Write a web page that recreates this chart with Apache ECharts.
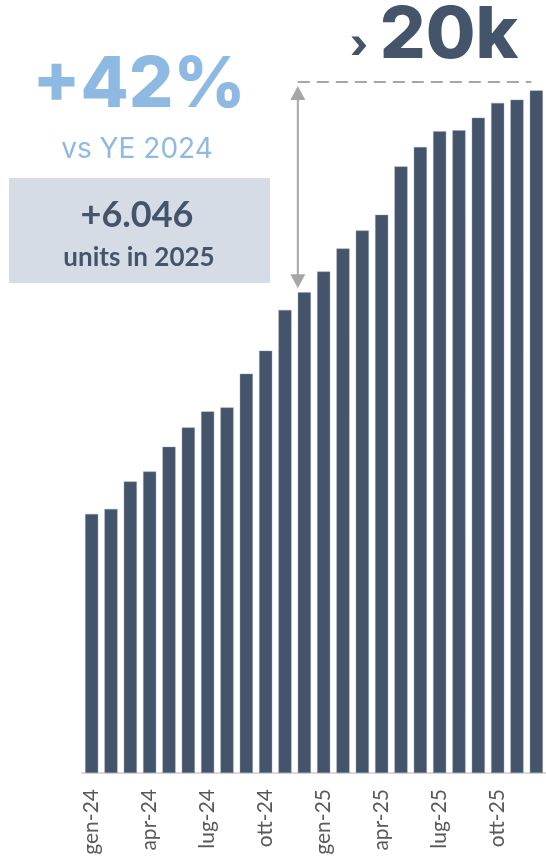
<!DOCTYPE html>
<html>
<head>
<meta charset="utf-8">
<script src="https://cdn.jsdelivr.net/npm/echarts@6/dist/echarts.min.js"></script>
<style>
  html, body { margin: 0; padding: 0; background: #fff; }
  #chart { width: 546px; height: 859px; }
</style>
</head>
<body>
<div id="chart"></div>
<script>
// Monthly cumulative units, Jan 2024 – Dec 2025
const months = [
  'gen-24','feb-24','mar-24','apr-24','mag-24','giu-24','lug-24','ago-24','set-24','ott-24','nov-24','dic-24',
  'gen-25','feb-25','mar-25','apr-25','mag-25','giu-25','lug-25','ago-25','set-25','ott-25','nov-25','dic-25'
];
const units = [
  7760, 7910, 8730, 9030, 9770, 10350, 10830, 10950, 11960, 12650, 13870, 14400,
  15020, 15710, 16250, 16720, 18170, 18750, 19220, 19250, 19630, 20070, 20170, 20446
];
const axisMax = 20700;   // level of the dashed "20k" guide
const baseMonth = 'dic-24';
const lastMonth = 'dic-25';

const headline = '+42%';
const headlineSub = 'vs YE 2024';
const deltaText = '+6.046';
const deltaSub = 'units in 2025';
const topLabel = '20k';

const DARK = '#44546A';
const LIGHT_BLUE = '#8DB9E3';
const GREY = '#A6A6A6';
const BAR_W = 13;

const chart = echarts.init(document.getElementById('chart'), null, { renderer: 'canvas' });

chart.setOption({
  animation: false,
  backgroundColor: '#ffffff',
  grid: { left: 82, top: 82, width: 467, bottom: 86, containLabel: false },
  xAxis: {
    type: 'category',
    data: months,
    boundaryGap: true,
    axisLine: { show: true, lineStyle: { color: '#D9D9D9', width: 2 } },
    axisTick: { show: false },
    axisLabel: {
      interval: 2,
      rotate: 90,
      margin: 16,
      color: '#595959',
      fontFamily: 'Lato',
      fontSize: 21
    }
  },
  yAxis: {
    type: 'value',
    min: 0,
    max: axisMax,
    show: false,
    splitLine: { show: false }
  },
  series: [{
    type: 'bar',
    data: units,
    barWidth: BAR_W,
    itemStyle: { color: DARK, borderColor: '#8A97AA', borderWidth: 0.4 }
  }]
});

// Annotations positioned through the chart's own coordinate system
const px = (cat, v) => chart.convertToPixel({ seriesIndex: 0 }, [cat, v]);
const baseVal = units[months.indexOf(baseMonth)];
const basePt = px(baseMonth, baseVal);
const topPt = px(baseMonth, axisMax);
const lastPt = px(lastMonth, axisMax);
const ax = basePt[0] - BAR_W / 2;
const yTop = topPt[1];
const yBottom = basePt[1] - 4;
const headW = 15, headH = 14;

chart.setOption({
  graphic: [
    // dashed guide at the 20k level
    { type: 'line', shape: { x1: ax, y1: yTop, x2: lastPt[0] - 5, y2: yTop },
      style: { stroke: GREY, lineWidth: 2, lineDash: [12, 7] } },
    // double-headed arrow from Dec-24 to the guide
    { type: 'line', shape: { x1: ax, y1: yTop + 6, x2: ax, y2: yBottom - 4 },
      style: { stroke: GREY, lineWidth: 2 } },
    { type: 'polygon', shape: { points: [[ax, yTop + 4], [ax - headW / 2, yTop + 4 + headH], [ax + headW / 2, yTop + 4 + headH]] },
      style: { fill: GREY } },
    { type: 'polygon', shape: { points: [[ax, yBottom], [ax - headW / 2, yBottom - headH], [ax + headW / 2, yBottom - headH]] },
      style: { fill: GREY } },

    // headline growth
    { type: 'text', x: 139, y: 86, style: { text: headline, fill: LIGHT_BLUE, font: '800 70px Inter', textAlign: 'center', textVerticalAlign: 'middle' } },
    { type: 'text', x: 137, y: 150, style: { text: headlineSub, fill: LIGHT_BLUE, font: '400 28px Inter', textAlign: 'center', textVerticalAlign: 'middle' } },

    // delta box
    { type: 'rect', shape: { x: 9, y: 178, width: 261, height: 105 }, style: { fill: '#D6DCE5' } },
    { type: 'text', x: 137, y: 215, style: { text: deltaText, fill: DARK, font: '700 36px Lato', textAlign: 'center', textVerticalAlign: 'middle' } },
    { type: 'text', x: 139, y: 258, style: { text: deltaSub, fill: DARK, font: '700 26px Lato', textAlign: 'center', textVerticalAlign: 'middle' } },

    // "› 20k" label above the guide
    { type: 'text', x: 359, y: 46, style: { text: '›', fill: DARK, font: '800 40px Inter', textAlign: 'center', textVerticalAlign: 'middle' } },
    { type: 'text', x: 449, y: 36, style: { text: topLabel, fill: DARK, font: '800 72px Inter', textAlign: 'center', textVerticalAlign: 'middle' } }
  ]
});
</script>
</body>
</html>
